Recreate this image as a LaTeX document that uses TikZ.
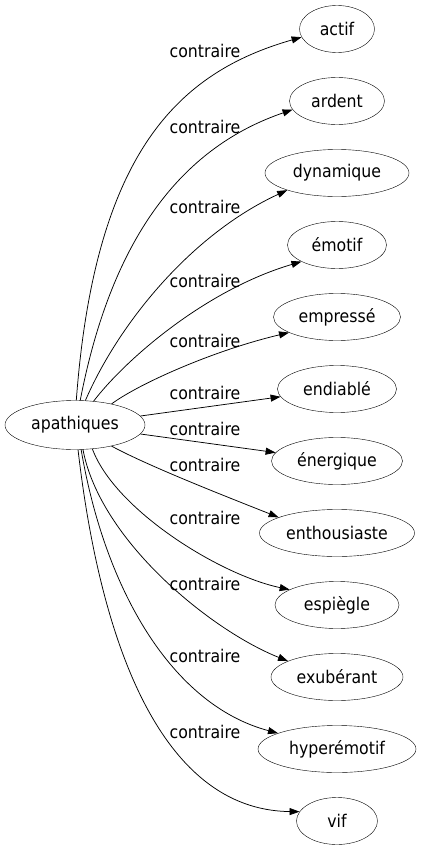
\documentclass[tikz,border=0pt]{standalone}
\usepackage{fontspec}
\setmainfont{DejaVu Sans Condensed}
\usetikzlibrary{shapes.geometric,arrows.meta}
\begin{document}
\begin{tikzpicture}[x=1pt,y=-1pt,
  word/.style={draw=black,ellipse,inner sep=0pt,minimum height=47pt,font=\fontsize{17.5}{20}\selectfont},
  lbl/.style={anchor=base,inner sep=0pt,font=\fontsize{17.5}{20}\selectfont},
  edge/.style={draw=black,line width=0.75pt,-{Triangle[length=10pt,width=7pt]}}]
\useasboundingbox (0,0) rectangle (422,851);
\node[word,minimum width=140pt,minimum height=49pt] (a) at (75,425) {apathiques};
\node[word,minimum width=75pt] (n1) at (337,29) {actif};
\node[word,minimum width=95pt] (n2) at (337,101) {ardent};
\node[word,minimum width=144pt] (n3) at (337,173) {dynamique};
\node[word,minimum width=99pt] (n4) at (337,245) {émotif};
\node[word,minimum width=127pt] (n5) at (337,317) {empressé};
\node[word,minimum width=119pt] (n6) at (337,389) {endiablé};
\node[word,minimum width=131pt] (n7) at (337,461) {énergique};
\node[word,minimum width=155pt] (n8) at (337,533) {enthousiaste};
\node[word,minimum width=124pt] (n9) at (337,605) {espiègle};
\node[word,minimum width=132pt] (n10) at (337,677) {exubérant};
\node[word,minimum width=158pt] (n11) at (337,749) {hyperémotif};
\node[word,minimum width=81pt] (n12) at (337,821) {vif};
\draw[edge] (a.87) .. controls (95,150) and (180,72) .. (n1.193);
\draw[edge] (a.78) .. controls (115,220) and (195,143) .. (n2.191);
\draw[edge] (a.67) .. controls (118,325) and (190,235) .. (n3.199);
\draw[edge] (a.52) .. controls (125,360) and (205,290) .. (n4.205);
\draw[edge] (a.30) .. controls (140,383) and (215,350) .. (n5.198);
\draw[edge] (a) -- (n6);
\draw[edge] (a) -- (n7);
\draw[edge] (a.-30) .. controls (150,467) and (235,500) .. (n8.165);
\draw[edge] (a.-54) .. controls (115,510) and (220,575) .. (n9.162);
\draw[edge] (a.-72) .. controls (100,540) and (210,630) .. (n10.162);
\draw[edge] (a.-76) .. controls (105,590) and (172,705) .. (n11.165);
\draw[edge] (a.-83) .. controls (100,640) and (160,810) .. (n12.166);
\node[lbl] (l1) at (205,58) {contraire};
\node[lbl] (l2) at (205,133) {contraire};
\node[lbl] (l3) at (205,213) {contraire};
\node[lbl] (l4) at (205,287) {contraire};
\node[lbl] (l5) at (205,347) {contraire};
\node[lbl] (l6) at (205,399) {contraire};
\node[lbl] (l7) at (205,435) {contraire};
\node[lbl] (l8) at (205,471) {contraire};
\node[lbl] (l9) at (205,524) {contraire};
\node[lbl] (l10) at (205,590) {contraire};
\node[lbl] (l11) at (205,662) {contraire};
\node[lbl] (l12) at (205,738) {contraire};
\end{tikzpicture}
\end{document}
